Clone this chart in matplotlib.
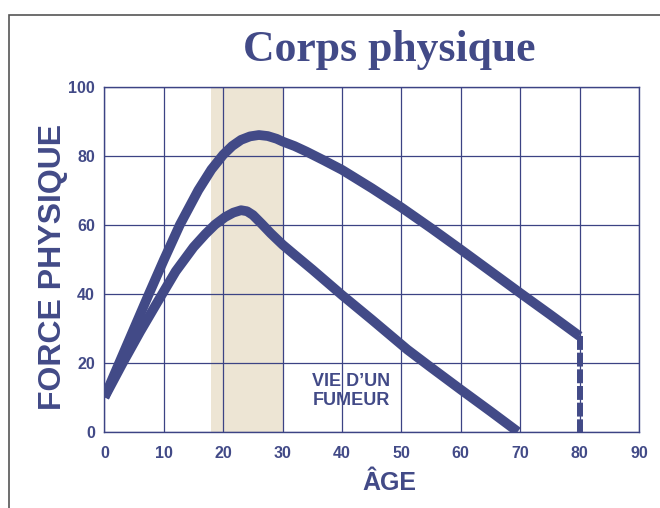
import matplotlib

matplotlib.use("Agg")
import matplotlib.pyplot as plt
from matplotlib.patches import Rectangle

# values
ages_healthy = [0, 2.5, 5, 7.5, 10, 12.7, 15.8, 18, 20, 21.5, 23, 24.5, 26, 27.5, 29, 30,
                32, 34, 37, 40, 45, 50, 55, 60, 65, 70, 75, 80]
force_healthy = [10, 20, 30, 40, 49.8, 60, 70, 76, 80.3, 82.8, 84.6, 85.6, 86, 85.7, 84.9, 84.1,
                 82.8, 81.2, 78.6, 75.9, 70.6, 65, 59, 52.8, 46.5, 40.2, 34, 27.7]

ages_smoker = [0, 3, 6, 9, 12, 15, 17, 18.6, 20.3, 21.7, 23, 24, 25, 26.5, 28, 30, 32, 35,
               40, 45, 51, 55, 60, 65, 69.6]
force_smoker = [10, 19.7, 29, 37.8, 46.5, 53.5, 57.3, 60, 62.2, 63.5, 64.2, 63.9, 62.8, 60.2,
                57.5, 54.2, 51.3, 47, 39.6, 32.5, 23.8, 18.6, 12.2, 5.9, 0]

death_age = 80
band = (18, 30)
x_ticks = list(range(0, 91, 10))
y_ticks = list(range(0, 101, 20))

NAVY = "#424a87"
GRID = "#3c4384"
BAND = "#ede5d4"

plt.rcParams["font.family"] = ["Liberation Sans", "DejaVu Sans"]
plt.rcParams["lines.scale_dashes"] = False

fig = plt.figure(figsize=(6.6, 5.08), dpi=100)
ax = fig.add_axes([0.1583, 0.1502, 0.8098, 0.6791])

ax.axvspan(band[0], band[1], color=BAND, lw=0, zorder=0)
ax.set_xlim(0, 90)
ax.set_ylim(0, 100)
ax.set_xticks(x_ticks)
ax.set_yticks(y_ticks)
ax.grid(True, color=GRID, lw=0.9, zorder=1)
ax.set_axisbelow(True)
for sp in ax.spines.values():
    sp.set_color(GRID)
    sp.set_linewidth(1.0)
ax.tick_params(length=0, colors=NAVY, labelsize=11.5)
ax.tick_params(axis="x", pad=10)
ax.tick_params(axis="y", pad=7)
for lab in ax.get_xticklabels() + ax.get_yticklabels():
    lab.set_fontweight("bold")

for ages, force in [(ages_healthy, force_healthy), (ages_smoker, force_smoker)]:
    ax.plot(ages, force, color=NAVY, lw=7, solid_joinstyle="round",
            solid_capstyle="butt", zorder=3)
ax.plot([death_age, death_age], [force_healthy[-1], 0], color=NAVY, lw=4.3,
        dashes=(10, 2), dash_capstyle="butt", zorder=3)

ax.text(41.6, 11.8, "VIE D\u2019UN\nFUMEUR", color=NAVY, fontsize=13, fontweight="bold",
        ha="center", va="center", linespacing=1.2, zorder=4)

fig.text(0.59, 0.879, "Corps physique", family="Liberation Serif", fontweight="bold",
         fontsize=31.5, color=NAVY, ha="center", va="baseline")
fig.text(0.080, 0.4754, "FORCE PHYSIQUE", fontweight="bold", fontsize=23, color=NAVY,
         rotation=90, ha="center", va="center")
fig.text(0.59, 0.036, "\u00c2GE", fontweight="bold", fontsize=18, color=NAVY,
         ha="center", va="baseline")

fig.patches.append(Rectangle((0.014, -0.2), 1.2, 0.971 + 0.2, transform=fig.transFigure,
                             fill=False, edgecolor="#555555", lw=1.2))

fig.savefig("out.png", dpi=100)
